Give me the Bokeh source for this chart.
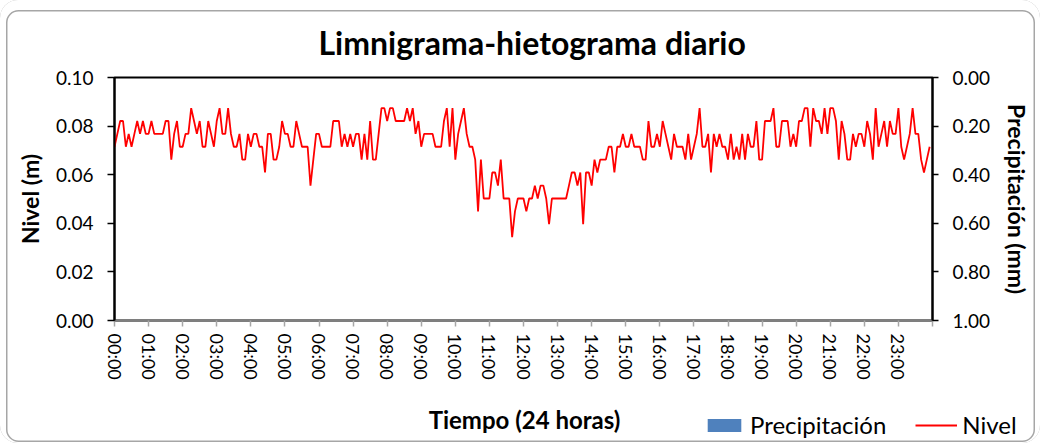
from bokeh.plotting import figure
from bokeh.layouts import column
from bokeh.models import (Range1d, LinearAxis, FixedTicker, PrintfTickFormatter,
                          Legend, LegendItem, ColumnDataSource)
from bokeh.core.properties import value
from bokeh.embed import file_html
from bokeh.resources import INLINE

# ---------------- data (5-minute readings, 00:00 .. 23:55) ----------------
minutos = list(range(0, 1440, 5))
nivel_m = [
    # 00h
    0.0715, 0.0768, 0.0821, 0.0821, 0.0715, 0.0768, 0.0715, 0.0768, 0.0821, 0.0768, 0.0821, 0.0768,
    # 01h
    0.0768, 0.0821, 0.0768, 0.0768, 0.0768, 0.0768, 0.0821, 0.0821, 0.0662, 0.0768, 0.0821, 0.0715,
    # 02h
    0.0715, 0.0768, 0.0768, 0.0874, 0.0821, 0.0768, 0.0821, 0.0715, 0.0715, 0.0821, 0.0768, 0.0715,
    # 03h
    0.0821, 0.0874, 0.0768, 0.0768, 0.0874, 0.0768, 0.0715, 0.0715, 0.0768, 0.0662, 0.0662, 0.0768,
    # 04h
    0.0715, 0.0768, 0.0768, 0.0715, 0.0715, 0.0609, 0.0768, 0.0768, 0.0662, 0.0662, 0.0715, 0.0821,
    # 05h
    0.0768, 0.0768, 0.0715, 0.0715, 0.0821, 0.0768, 0.0715, 0.0715, 0.0715, 0.0555, 0.0662, 0.0768,
    # 06h
    0.0768, 0.0715, 0.0715, 0.0715, 0.0715, 0.0821, 0.0821, 0.0821, 0.0715, 0.0768, 0.0715, 0.0768,
    # 07h
    0.0715, 0.0768, 0.0768, 0.0662, 0.0768, 0.0662, 0.0821, 0.0662, 0.0662, 0.0768, 0.0874, 0.0874,
    # 08h
    0.0821, 0.0874, 0.0874, 0.0821, 0.0821, 0.0821, 0.0821, 0.0874, 0.0821, 0.0874, 0.0768, 0.0821,
    # 09h
    0.0715, 0.0768, 0.0768, 0.0768, 0.0768, 0.0715, 0.0715, 0.0715, 0.0821, 0.0874, 0.0715, 0.0874,
    # 10h
    0.0662, 0.0768, 0.0821, 0.0874, 0.0768, 0.0715, 0.0715, 0.0662, 0.0449, 0.0662, 0.0502, 0.0502,
    # 11h
    0.0502, 0.0609, 0.0609, 0.0555, 0.0662, 0.0502, 0.0502, 0.0502, 0.0343, 0.0449, 0.0502, 0.0502,
    # 12h
    0.0502, 0.0449, 0.0502, 0.0502, 0.0555, 0.0502, 0.0555, 0.0555, 0.0502, 0.0396, 0.0502, 0.0502,
    # 13h
    0.0502, 0.0502, 0.0502, 0.0502, 0.0555, 0.0609, 0.0609, 0.0555, 0.0609, 0.0396, 0.0609, 0.0609,
    # 14h
    0.0555, 0.0662, 0.0609, 0.0662, 0.0662, 0.0662, 0.0715, 0.0715, 0.0609, 0.0715, 0.0715, 0.0768,
    # 15h
    0.0715, 0.0715, 0.0768, 0.0715, 0.0715, 0.0715, 0.0662, 0.0662, 0.0821, 0.0715, 0.0715, 0.0768,
    # 16h
    0.0715, 0.0821, 0.0768, 0.0715, 0.0662, 0.0768, 0.0715, 0.0715, 0.0715, 0.0662, 0.0768, 0.0662,
    # 17h
    0.0715, 0.0768, 0.0874, 0.0715, 0.0715, 0.0768, 0.0609, 0.0768, 0.0715, 0.0768, 0.0715, 0.0715,
    # 18h
    0.0662, 0.0768, 0.0662, 0.0715, 0.0662, 0.0768, 0.0662, 0.0768, 0.0715, 0.0715, 0.0821, 0.0662,
    # 19h
    0.0662, 0.0821, 0.0821, 0.0821, 0.0874, 0.0715, 0.0715, 0.0821, 0.0821, 0.0821, 0.0715, 0.0768,
    # 20h
    0.0715, 0.0821, 0.0821, 0.0874, 0.0874, 0.0715, 0.0874, 0.0821, 0.0821, 0.0768, 0.0874, 0.0768,
    # 21h
    0.0874, 0.0874, 0.0821, 0.0662, 0.0821, 0.0768, 0.0662, 0.0662, 0.0768, 0.0715, 0.0768, 0.0768,
    # 22h
    0.0715, 0.0821, 0.0768, 0.0662, 0.0874, 0.0715, 0.0768, 0.0821, 0.0715, 0.0821, 0.0768, 0.0768,
    # 23h
    0.0874, 0.0715, 0.0662, 0.0715, 0.0768, 0.0874, 0.0768, 0.0768, 0.0662, 0.0609, 0.0662, 0.0715,
]
horas_min = [h * 60 for h in range(24)]
precipitacion_mm = [0.0] * 24
etiquetas_hora = ["%02d:00" % h for h in range(24)]

FONT = "Lato"
BAR_COLOR = "#4F81BD"
LINE_COLOR = "#FF0000"

# ---------------- main chart ----------------
p = figure(width=1040, height=395, x_range=Range1d(0, 1440), y_range=Range1d(0, 0.10),
           output_backend="svg", toolbar_location=None,
           title="Limnigrama-hietograma diario",
           min_border_left=114, min_border_right=108, min_border_top=77, min_border_bottom=75,
           background_fill_color="white", border_fill_alpha=0)
p.extra_y_ranges = {"precip": Range1d(start=1.0, end=0.0)}
p.grid.visible = False
p.outline_line_color = "black"
p.outline_line_width = 2

p.title.text_font = FONT
p.title.text_font_size = "32px"
p.title.text_font_style = "bold"
p.title.text_color = "black"
p.title.align = "left"
p.title.offset = 204
p.title.standoff = 32

p.vbar(x=[m + 30 for m in horas_min], top=precipitacion_mm, bottom=0, width=50,
       y_range_name="precip", fill_color=BAR_COLOR, line_color=None)
src = ColumnDataSource(dict(t=minutos, nivel=nivel_m))
p.line(x="t", y="nivel", source=src, line_color=LINE_COLOR, line_width=1.8)

ya = p.yaxis[0]
ya.ticker = FixedTicker(ticks=[0, 0.02, 0.04, 0.06, 0.08, 0.10])
ya.formatter = PrintfTickFormatter(format="%.2f")
ya.axis_label = "Nivel (m)"
ya.axis_line_color = "black"; ya.axis_line_width = 2
ya.major_tick_line_color = "black"; ya.major_tick_line_width = 1.5
ya.major_tick_in = 0; ya.major_tick_out = 7
ya.minor_tick_line_color = None
ya.major_label_standoff = 14
ya.major_label_text_font = FONT; ya.major_label_text_font_size = "19px"
ya.major_label_text_color = "black"
ya.axis_label_text_font = FONT; ya.axis_label_text_font_size = "23px"
ya.axis_label_text_font_style = "bold"; ya.axis_label_text_color = "black"
ya.axis_label_standoff = 9

ra = LinearAxis(y_range_name="precip", ticker=FixedTicker(ticks=[0, 0.2, 0.4, 0.6, 0.8, 1.0]),
                formatter=PrintfTickFormatter(format="%.2f"), axis_label="Precipitación (mm)")
ra.axis_line_color = "black"; ra.axis_line_width = 2
ra.major_tick_line_color = "black"; ra.major_tick_line_width = 1.5
ra.major_tick_in = 0; ra.major_tick_out = 6
ra.minor_tick_line_color = None
ra.major_label_standoff = 14
ra.major_label_text_font = FONT; ra.major_label_text_font_size = "19px"
ra.major_label_text_color = "black"
ra.axis_label_text_font = FONT; ra.axis_label_text_font_size = "23px"
ra.axis_label_text_font_style = "bold"; ra.axis_label_text_color = "black"
ra.axis_label_standoff = 10
p.add_layout(ra, "right")

xa = p.xaxis[0]
xa.ticker = FixedTicker(ticks=horas_min + [1440])
overrides = {m: lab for m, lab in zip(horas_min, etiquetas_hora)}
overrides[1440] = ""
xa.major_label_overrides = overrides
xa.major_label_orientation = "vertical"
xa.axis_line_color = "#7f7f7f"; xa.axis_line_width = 2
xa.major_tick_line_color = "#a6a6a6"; xa.major_tick_line_width = 1.5
xa.major_tick_in = 0; xa.major_tick_out = 6
xa.minor_tick_line_color = None
xa.major_label_standoff = 7
xa.major_label_text_font = FONT; xa.major_label_text_font_size = "18px"
xa.major_label_text_color = "black"

# ---------------- bottom strip: axis title + legend ----------------
# strip uses pixel-like ranges; the series drawn here (for the legend swatches)
# fall outside its y range and are therefore not visible.
p2 = figure(width=1040, height=48, x_range=Range1d(0, 1040), y_range=Range1d(100, 148),
            output_backend="svg", toolbar_location=None, x_axis_type=None, y_axis_type=None,
            min_border=0, min_border_left=0, min_border_right=0, min_border_top=0, min_border_bottom=0,
            background_fill_alpha=0, border_fill_alpha=0)
for fig in (p, p2):
    if "frame_align" in fig.properties():
        fig.frame_align = False
p2.grid.visible = False
p2.outline_line_color = None
p2.text(x=[524], y=[124], text=["Tiempo (24 horas)"], text_font=value(FONT),
        text_font_size="24px", text_font_style="bold", text_color="black",
        text_align="center", text_baseline="alphabetic")
leg_bar = p2.vbar(x=horas_min, top=precipitacion_mm, bottom=0, width=1,
                  fill_color=BAR_COLOR, line_color=None)
leg_line = p2.line(x=minutos, y=nivel_m, line_color=LINE_COLOR, line_width=1.8)
legend = Legend(items=[LegendItem(label="Precipitación", renderers=[leg_bar]),
                       LegendItem(label="Nivel", renderers=[leg_line])],
                location=(703, 4), orientation="horizontal",
                glyph_width=42, glyph_height=16, label_standoff=5, spacing=29,
                padding=0, margin=0, border_line_color=None, background_fill_alpha=0,
                label_text_font=FONT, label_text_font_size="24px", label_text_color="black")
p2.add_layout(legend)

layout = column(p, p2, spacing=0,
                styles={"border-radius": "18px", "background-color": "white",
                        "box-shadow": "inset 0.5px 4.5px 0 5.5px #ffffff, inset 0.5px 4.5px 0 7px #a6a6a6"})

open("out.html", "w").write(file_html(layout, INLINE))
